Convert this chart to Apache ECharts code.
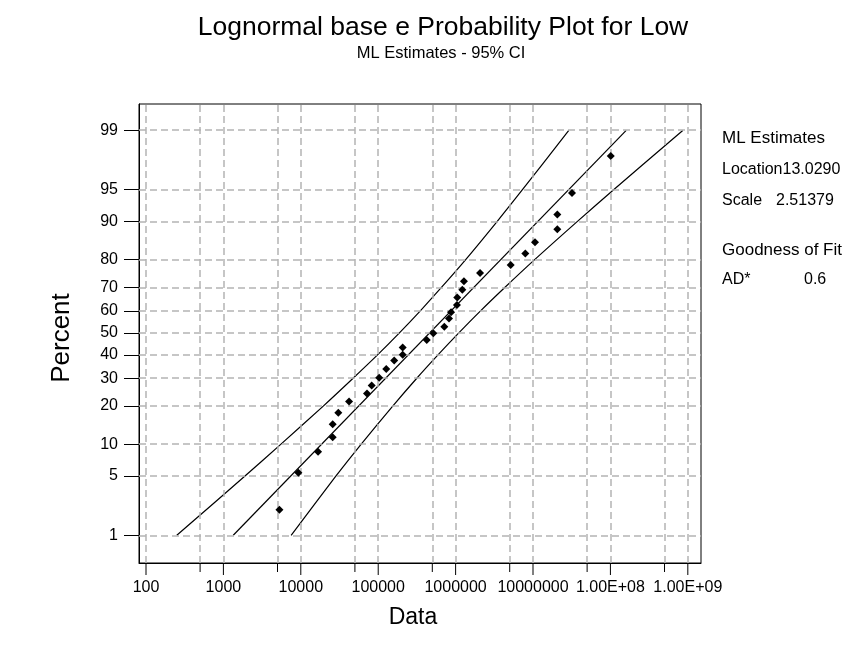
<!DOCTYPE html>
<html>
<head>
<meta charset="utf-8">
<script src="https://cdn.jsdelivr.net/npm/echarts@6/dist/echarts.min.js"></script>
<style>
html,body{margin:0;padding:0;background:#fff;}
#chart{width:867px;height:656px;}
</style>
</head>
<body>
<div id="chart"></div>
<script>
// ---- data ----
const dataValues = [5300, 9300, 16700, 25800, 25800, 30500, 42000, 71600, 82400, 103000, 127000, 161000, 207000, 207000, 424000, 515000, 715000, 822000, 873000, 1040000, 1050000, 1220000, 1280000, 2070000, 5150000, 7950000, 10600000, 20600000, 20600000, 31900000, 101000000];
const dataPercents = [2.1, 5.4, 8.6, 11.5, 14.7, 17.9, 21.5, 24.3, 27.3, 30.3, 33.9, 37.5, 40.1, 43.3, 46.7, 49.8, 52.8, 56.6, 59.4, 62.6, 65.8, 69.0, 72.3, 75.4, 78.2, 81.9, 85.1, 88.3, 91.3, 94.6, 97.9];

const fitX = [1340, 160000000];
const fitPercents = [1, 99];

const ciPercents = [1, 5, 10, 20, 30, 40, 50, 60, 70, 80, 90, 95, 99];
const upperCIX = [250, 1900, 5500, 19500, 47000, 98000, 188000, 350000, 660000, 1350000, 3450000, 7300000, 29000000];
const lowerCIX = [7500, 28500, 60000, 154000, 313000, 592000, 1100000, 2100000, 4350000, 10500000, 37500000, 110000000, 860000000];

const yTickPercents = [1, 5, 10, 20, 30, 40, 50, 60, 70, 80, 90, 95, 99];
const xTickValues = [100, 1000, 10000, 100000, 1000000, 10000000, 100000000, 1000000000];
const xTickLabels = ['100', '1000', '10000', '100000', '1000000', '10000000', '1.00E+08', '1.00E+09'];
const xMinorValues = [500, 5000, 50000, 500000, 5000000, 50000000, 500000000];

const statLines = [
  ['ML Estimates', ''],
  ['Location13.0290', ''],
  ['Scale', '2.51379'],
  ['Goodness of Fit', ''],
  ['AD*', '0.6']
];

// ---- probability (normal) scale transform ----
function normInv(p){
  const a=[-3.969683028665376e+01,2.209460984245205e+02,-2.759285104469687e+02,1.383577518672690e+02,-3.066479806614716e+01,2.506628277459239e+00];
  const b=[-5.447609879822406e+01,1.615858368580409e+02,-1.556989798598866e+02,6.680131188771972e+01,-1.328068155288572e+01];
  const c=[-7.784894002430293e-03,-3.223964580411365e-01,-2.400758277161838e+00,-2.549732539343734e+00,4.374664141464968e+00,2.938163982698783e+00];
  const d=[7.784695709041462e-03,3.224671290700398e-01,2.445134137142996e+00,3.754408661907416e+00];
  const pl=0.02425, ph=1-pl; let q,r;
  if(p<pl){q=Math.sqrt(-2*Math.log(p));return (((((c[0]*q+c[1])*q+c[2])*q+c[3])*q+c[4])*q+c[5])/((((d[0]*q+d[1])*q+d[2])*q+d[3])*q+1);}
  if(p<=ph){q=p-0.5;r=q*q;return (((((a[0]*r+a[1])*r+a[2])*r+a[3])*r+a[4])*r+a[5])*q/(((((b[0]*r+b[1])*r+b[2])*r+b[3])*r+b[4])*r+1);}
  q=Math.sqrt(-2*Math.log(1-p));return -(((((c[0]*q+c[1])*q+c[2])*q+c[3])*q+c[4])*q+c[5])/((((d[0]*q+d[1])*q+d[2])*q+d[3])*q+1);
}
const z = p => normInv(p / 100);

const Y_MIN = -2.645, Y_MAX = 2.63;
const X_MIN = 81.2, X_MAX = 1.48e9;
const zTicks = yTickPercents.map(z);

const FONT = "'Liberation Sans', Arial, sans-serif";
const gridDash = { color: '#b4b4b4', width: 1.5, type: [7, 4] };

// x ticks (major and 5x minor) drawn below the frame through the axis scale
const xTickMarks = xTickValues.map(v => [v, Y_MIN, 12]).concat(xMinorValues.map(v => [v, Y_MIN, 9]));

const chart = echarts.init(document.getElementById('chart'));
const option = {
  animation: false,
  backgroundColor: '#fff',
  textStyle: { fontFamily: FONT },
  grid: { left: 139, right: 166, top: 104, bottom: 93, show: true, borderColor: '#000', borderWidth: 1, backgroundColor: 'transparent' },
  xAxis: {
    type: 'log', logBase: 10, min: X_MIN, max: X_MAX,
    axisLine: { show: true, onZero: false, lineStyle: { color: '#000', width: 1 } },
    axisTick: { show: false },
    axisLabel: {
      margin: 17, color: '#000', fontSize: 16, fontFamily: FONT,
      showMinLabel: true, showMaxLabel: true,
      formatter: function (v) {
        const e = Math.log10(v);
        if (Math.abs(e - Math.round(e)) > 1e-6) return '';
        const i = xTickValues.indexOf(Math.pow(10, Math.round(e)));
        return i >= 0 ? xTickLabels[i] : '';
      }
    },
    splitLine: { show: false },
    minorTick: { show: false }
  },
  yAxis: {
    type: 'value', min: Y_MIN, max: Y_MAX,
    axisLine: { show: true, onZero: false, lineStyle: { color: '#000', width: 1 } },
    axisTick: { show: true, length: 15, customValues: zTicks, lineStyle: { color: '#000', width: 1 } },
    axisLabel: {
      margin: 21, color: '#000', fontSize: 16, fontFamily: FONT,
      customValues: zTicks,
      formatter: function (v) {
        let best = 0, bd = 1e9;
        zTicks.forEach((t, i) => { const dd = Math.abs(t - v); if (dd < bd) { bd = dd; best = i; } });
        return String(yTickPercents[best]);
      }
    },
    splitLine: { show: false }
  },
  series: [
    {
      type: 'line', data: [], silent: true, z: 1,
      markLine: {
        silent: true, symbol: 'none', animation: false,
        label: { show: false },
        lineStyle: gridDash,
        emphasis: { disabled: true },
        data: xTickValues.concat(xMinorValues).map(v => ({ xAxis: v }))
          .concat(zTicks.map(t => ({ yAxis: t })))
      }
    },
    {
      type: 'custom', silent: true, clip: false, z: 3,
      data: xTickMarks,
      encode: { x: 0, y: 1 },
      renderItem: function (params, api) {
        const p = api.coord([api.value(0), api.value(1)]);
        const len = api.value(2);
        return { type: 'line', shape: { x1: p[0], y1: p[1], x2: p[0], y2: p[1] + len }, style: { stroke: '#000', lineWidth: 1 } };
      }
    },
    {
      name: 'Fit', type: 'line', symbol: 'none', silent: true, z: 4,
      lineStyle: { color: '#000', width: 1.2 },
      data: fitX.map((x, i) => [x, z(fitPercents[i])])
    },
    {
      name: 'Upper', type: 'line', symbol: 'none', silent: true, z: 4, smooth: 0.3,
      lineStyle: { color: '#000', width: 1.2 },
      data: upperCIX.map((x, i) => [x, z(ciPercents[i])])
    },
    {
      name: 'Lower', type: 'line', symbol: 'none', silent: true, z: 4, smooth: 0.3,
      lineStyle: { color: '#000', width: 1.2 },
      data: lowerCIX.map((x, i) => [x, z(ciPercents[i])])
    },
    {
      name: 'Low', type: 'scatter', symbol: 'diamond', symbolSize: 8, z: 5,
      itemStyle: { color: '#000', opacity: 1 },
      data: dataValues.map((x, i) => [x, z(dataPercents[i])])
    }
  ],
  graphic: [
    { type: 'text', x: 443, y: 28, style: { text: 'Lognormal base e Probability Plot for Low', font: "26.5px " + FONT, fill: '#000', align: 'center', verticalAlign: 'middle' } },
    { type: 'text', x: 441, y: 53, style: { text: 'ML Estimates - 95% CI', font: "16.5px " + FONT, fill: '#000', align: 'center', verticalAlign: 'middle' } },
    { type: 'text', x: 62, y: 338, rotation: Math.PI / 2, style: { text: 'Percent', font: "26px " + FONT, fill: '#000', align: 'center', verticalAlign: 'middle' } },
    { type: 'text', x: 413, y: 618, style: { text: 'Data', font: "23px " + FONT, fill: '#000', align: 'center', verticalAlign: 'middle' } },
    { type: 'text', x: 722, y: 138, style: { text: statLines[0][0], font: "17px " + FONT, fill: '#000', verticalAlign: 'middle' } },
    { type: 'text', x: 722, y: 170, style: { text: statLines[1][0], font: "16px " + FONT, fill: '#000', verticalAlign: 'middle' } },
    { type: 'text', x: 722, y: 201, style: { text: statLines[2][0], font: "16px " + FONT, fill: '#000', verticalAlign: 'middle' } },
    { type: 'text', x: 776, y: 201, style: { text: statLines[2][1], font: "16px " + FONT, fill: '#000', verticalAlign: 'middle' } },
    { type: 'text', x: 722, y: 250, style: { text: statLines[3][0], font: "17px " + FONT, fill: '#000', verticalAlign: 'middle' } },
    { type: 'text', x: 722, y: 280, style: { text: statLines[4][0], font: "16px " + FONT, fill: '#000', verticalAlign: 'middle' } },
    { type: 'text', x: 804, y: 280, style: { text: statLines[4][1], font: "16px " + FONT, fill: '#000', verticalAlign: 'middle' } }
  ]
};
chart.setOption(option);
</script>
</body>
</html>
